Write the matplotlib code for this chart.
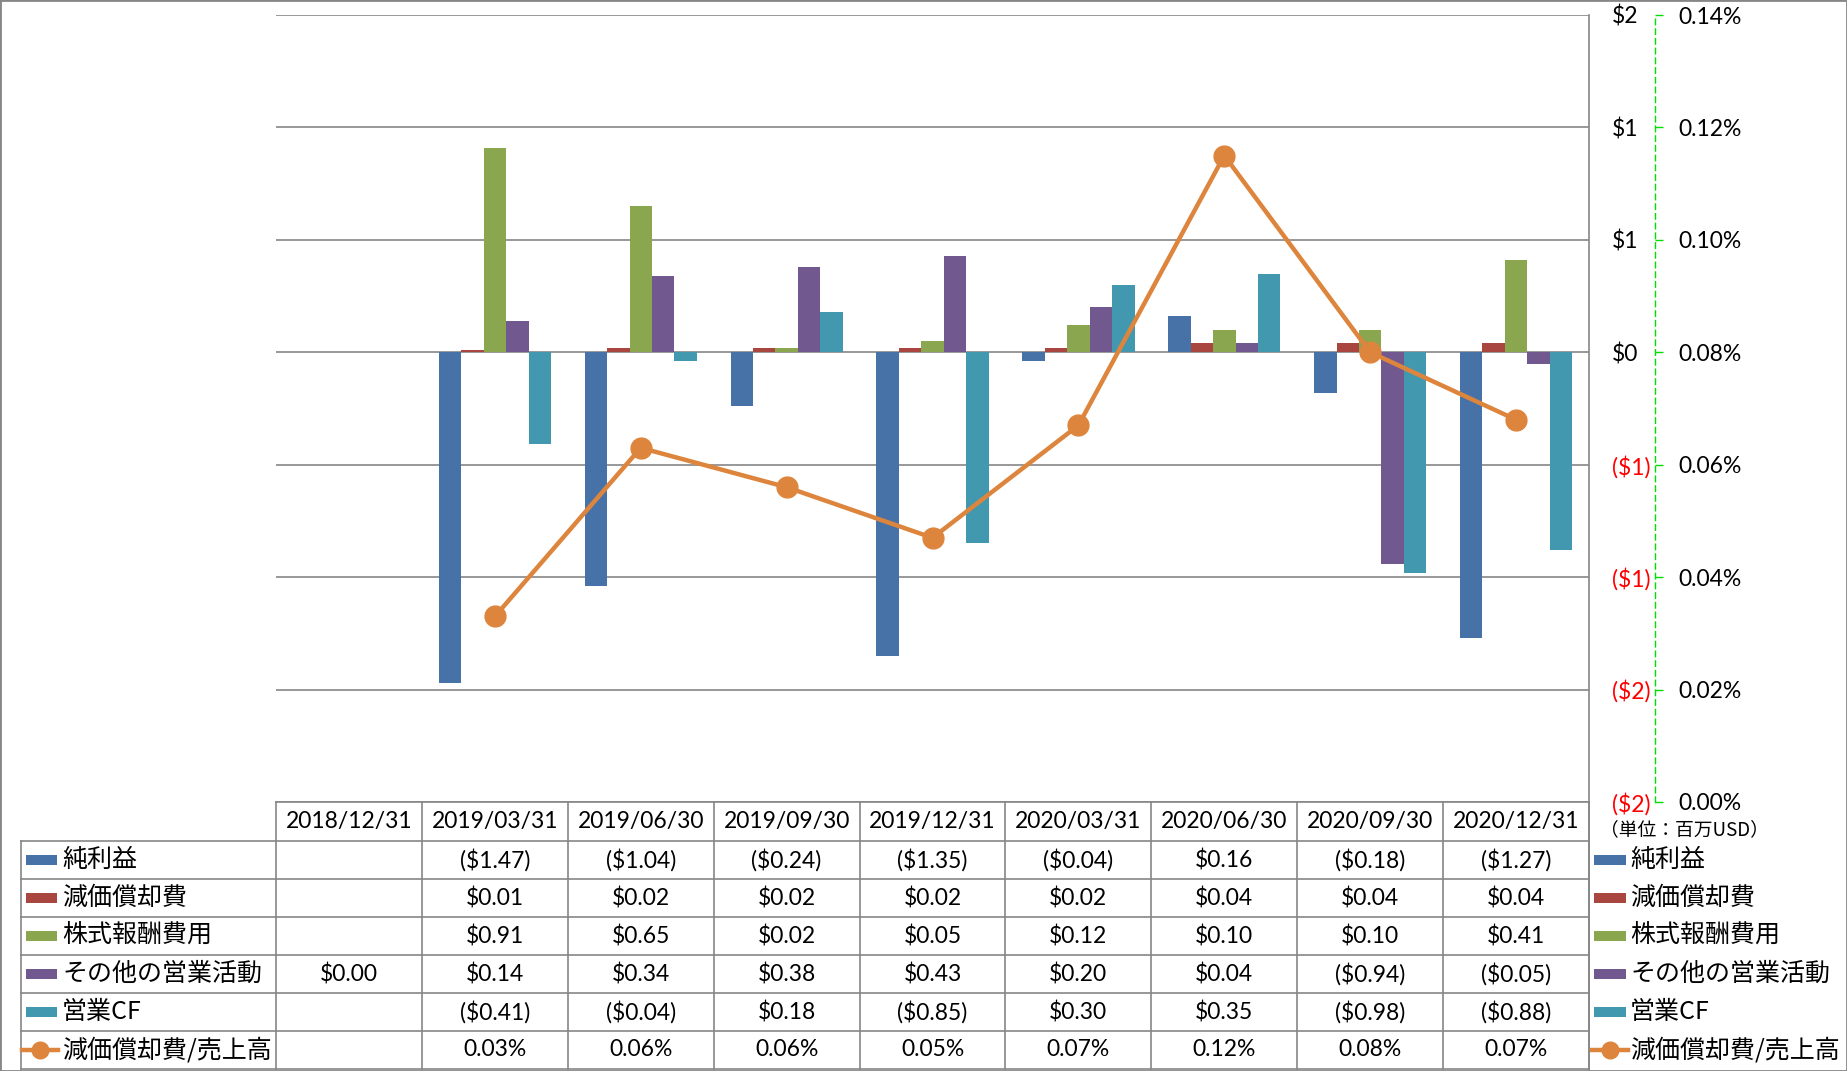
import numpy as np
import matplotlib
matplotlib.use('Agg')
import matplotlib.pyplot as plt
from matplotlib.transforms import blended_transform_factory
from matplotlib.lines import Line2D
from matplotlib.patches import Rectangle

plt.rcParams['font.family'] = ['Lato', 'Noto Sans CJK JP', 'DejaVu Sans']

# ---------------- data ----------------
categories = ['2018/12/31', '2019/03/31', '2019/06/30', '2019/09/30', '2019/12/31',
              '2020/03/31', '2020/06/30', '2020/09/30', '2020/12/31']
series_names = ['純利益', '減価償却費', '株式報酬費用', 'その他の営業活動', '営業CF']
line_name = '減価償却費/売上高'
net_income = [np.nan, -1.47, -1.04, -0.24, -1.35, -0.04, 0.16, -0.18, -1.27]
depreciation = [np.nan, 0.01, 0.02, 0.02, 0.02, 0.02, 0.04, 0.04, 0.04]
stock_comp = [np.nan, 0.91, 0.65, 0.02, 0.05, 0.12, 0.10, 0.10, 0.41]
other_ops = [0.00, 0.14, 0.34, 0.38, 0.43, 0.20, 0.04, -0.94, -0.05]
operating_cf = [np.nan, -0.41, -0.04, 0.18, -0.85, 0.30, 0.35, -0.98, -0.88]
dep_ratio_pct = [np.nan, 0.033, 0.063, 0.056, 0.047, 0.067, 0.115, 0.080, 0.068]
left_ticks = [-2.0, -1.5, -1.0, -0.5, 0.0, 0.5, 1.0, 1.5]
right_ticks = [0.00, 0.02, 0.04, 0.06, 0.08, 0.10, 0.12, 0.14]
unit_label = '（単位：百万USD）'

bar_series = [net_income, depreciation, stock_comp, other_ops, operating_cf]
colors = ['#4672A8', '#A9463F', '#8AA64E', '#71588F', '#4298AF']
line_color = '#DD853D'
grid_color = '#868686'

# ---------------- figure ----------------
W, H = 1847, 1071
fig = plt.figure(figsize=(W / 100, H / 100), dpi=100)


def fx(px):
    return px / W


def fy(py):
    return 1 - py / H


L, R, T, B = 276, 1589, 15, 802
ax = fig.add_axes([fx(L), fy(B), fx(R) - fx(L), fy(T) - fy(B)])
x = np.arange(len(categories))
n = len(bar_series)
w = 1 / (n + 1.5)
for k, (vals, c) in enumerate(zip(bar_series, colors)):
    ax.bar(x + (k - (n - 1) / 2) * w, vals, width=w, color=c, zorder=3, linewidth=0)

ax.set_xlim(-0.5, len(categories) - 0.5)
ax.set_ylim(left_ticks[0], left_ticks[-1])
ax.set_xticks([])

ax2 = ax.twinx()


def money_label(v):
    r = int(abs(v) + 0.5)
    return f'${r}' if v >= 0 else f'(${r})'


num_fs = 16.5
cjk_fs = 18

ax.yaxis.tick_right()
ax.yaxis.set_label_position('right')
ax.set_yticks(left_ticks, [money_label(v) for v in left_ticks])
ax.tick_params(axis='y', which='both', left=False, right=True, labelleft=False, labelright=True,
               length=0, pad=16.5, labelsize=num_fs)
for lab, v in zip(ax.get_yticklabels(which='major'), left_ticks):
    lab.set_color('#FF0000' if v < 0 else 'black')
    lab.set_horizontalalignment('left')
ax.yaxis.grid(True, color=grid_color, linewidth=1.2, zorder=0)
for s in ['top', 'left', 'bottom']:
    ax.spines[s].set_visible(False)
ax.spines['right'].set_color(grid_color)
ax.spines['right'].set_linewidth(1.2)

ax2.plot(x, dep_ratio_pct, color=line_color, lw=3.2, marker='o', markersize=15, zorder=5)
ax2.set_ylim(right_ticks[0], right_ticks[-1])
ax2.set_yticks(right_ticks, [f'{v:.2f}%' for v in right_ticks])
for s in ['top', 'left', 'bottom']:
    ax2.spines[s].set_visible(False)
ax2.spines['right'].set_position(('axes', (1655 - L) / (R - L)))
ax2.spines['right'].set_color('#00E000')
ax2.spines['right'].set_linestyle((0, (4, 3)))
ax2.spines['right'].set_linewidth(1.0)
ax2.tick_params(axis='y', direction='out', length=6, width=1, color='#00E000', pad=11,
                labelsize=num_fs)

# ---------------- data table ----------------
trans = blended_transform_factory(ax.transData, fig.transFigure)
tc = grid_color
tlw = 1.2
row_edges = [841 + 38 * i for i in range(7)]
fig.add_artist(Line2D([fx(L), fx(R)], [fy(B), fy(B)], color=tc, lw=tlw))
for ry in row_edges:
    fig.add_artist(Line2D([fx(21), fx(R)], [fy(ry), fy(ry)], color=tc, lw=tlw))
for i in range(len(categories) + 1):
    fig.add_artist(Line2D([i - 0.5, i - 0.5], [fy(B), fy(row_edges[-1])], color=tc, lw=tlw,
                          transform=trans))
fig.add_artist(Line2D([fx(21), fx(21)], [fy(row_edges[0]), fy(row_edges[-1])], color=tc, lw=tlw))
fig.add_artist(Line2D([fx(R), fx(R)], [fy(B), fy(H - 1)], color=tc, lw=tlw))

cjk = ['Noto Sans CJK JP', 'Lato']
for i, c in enumerate(categories):
    fig.text(i, fy((B + row_edges[0]) / 2), c, transform=trans, ha='center', va='center',
             fontsize=num_fs)


def fmt_money(v):
    if np.isnan(v):
        return ''
    return f'${v:.2f}' if v >= 0 else f'(${abs(v):.2f})'


rows = [[fmt_money(v) for v in s] for s in bar_series]
rows.append(['' if np.isnan(v) else f'{v:.2f}%' for v in dep_ratio_pct])
labels = series_names + [line_name]
for r, (lab, vals) in enumerate(zip(labels, rows)):
    yc = fy((row_edges[r] + row_edges[r + 1]) / 2)
    for i, s in enumerate(vals):
        if s:
            fig.text(i, yc, s, transform=trans, ha='center', va='center', fontsize=num_fs)
    fig.text(fx(62), yc, lab, ha='left', va='center', fontsize=cjk_fs, family=cjk)
    fig.text(fx(1630), yc, lab, ha='left', va='center', fontsize=cjk_fs, family=cjk)
    if r < n:
        fig.add_artist(Rectangle((fx(26), yc - 5 / H), fx(31), 10 / H, color=colors[r], lw=0))
        fig.add_artist(Rectangle((fx(1594), yc - 5 / H), fx(32), 10 / H, color=colors[r], lw=0))
    else:
        for x0, x1 in [(22, 58), (1592, 1628)]:
            fig.add_artist(Line2D([fx(x0), fx(x1)], [yc, yc], color=line_color, lw=3.2))
            fig.add_artist(Line2D([fx((x0 + x1) / 2)], [yc], color=line_color, marker='o',
                                  markersize=12, lw=0))

fig.text(fx(1600), fy(830), unit_label, ha='left', va='center', fontsize=13.5, family=cjk)

fig.add_artist(Rectangle((0, 0), 1, 1, fill=False, edgecolor=grid_color, lw=2,
                         transform=fig.transFigure))

fig.savefig('out.png', dpi=100)
